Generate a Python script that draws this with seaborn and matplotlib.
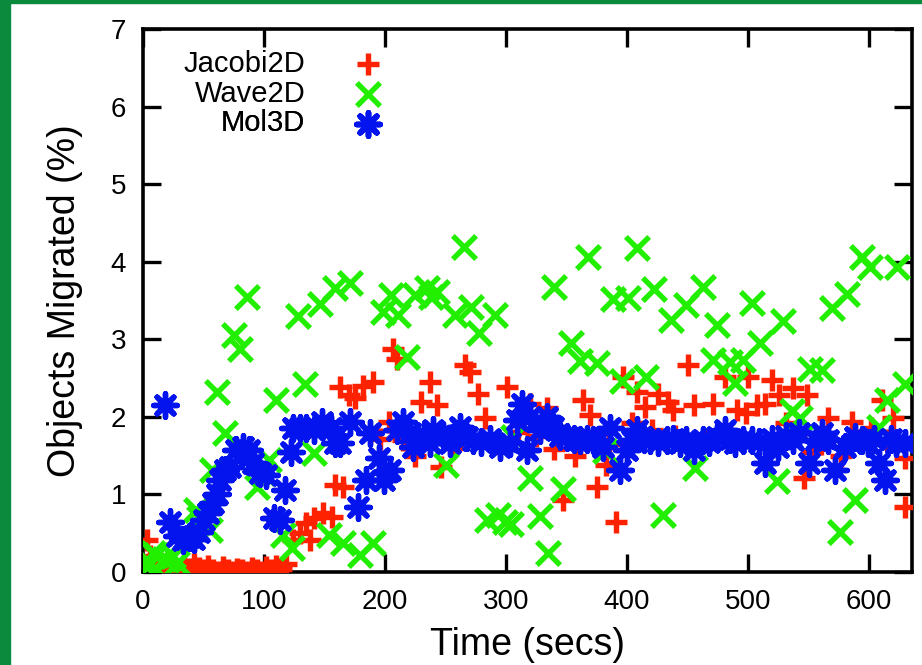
import matplotlib
matplotlib.use("Agg")
import matplotlib.pyplot as plt
from matplotlib.patches import Rectangle
import seaborn as sns

# ---------------- data ----------------
jacobi_t = [3, 6, 8, 12, 16, 22, 28, 34, 38, 42, 46, 50, 54, 58, 62, 66, 70, 74,
            78, 82, 86, 90, 94, 98, 102, 106, 110, 114, 118,
            124, 130, 135, 138, 141, 149, 156, 159, 163, 165, 170, 175, 182, 190,
            196, 203, 207, 210, 215, 221, 225, 230, 237, 243, 246, 256, 266, 270,
            277, 283, 290, 301, 310, 320, 325, 334, 340, 345, 347, 350, 357, 361,
            364, 369, 375, 383, 385, 391, 397, 404, 408, 415, 421, 426, 434, 438,
            440, 450, 455, 465, 471, 481, 491, 498, 500, 507, 514, 520, 526, 531,
            537, 540, 546, 549, 553, 560, 566, 577, 586, 590, 602, 611, 615, 620,
            630, 630]
jacobi_pct = [0.41, 0.2, 0.1, 0.05, 0.02, 0.05, 0.02, 0.08, 0.04, 0.1, 0.05, 0.02,
              0.08, 0.03, 0.0, 0.06, 0.02, 0.0, 0.04, 0.02, 0.0, 0.05, 0.02, 0.0,
              0.06, 0.03, 0.08, 0.04, 0.1,
              0.41, 0.5, 0.63, 0.41, 0.69, 0.76, 0.71, 1.12, 2.39, 1.1, 2.28, 2.24,
              2.4, 2.45, 1.72, 1.94, 2.88, 2.75, 1.7, 1.61, 1.49, 2.19, 2.45, 2.15,
              1.36, 1.6, 2.67, 2.58, 2.3, 1.98, 1.65, 2.39, 1.8, 2.17, 1.75, 2.11,
              1.59, 1.78, 0.93, 1.74, 1.49, 1.61, 2.22, 2.02, 1.1, 1.38, 1.65, 0.65,
              2.52, 1.92, 2.32, 2.13, 1.83, 2.3, 2.19, 2.09, 1.75, 2.67, 2.15, 1.7,
              2.17, 2.52, 2.09, 2.05, 2.52, 2.15, 2.17, 2.47, 2.28, 1.92, 2.37, 1.75,
              1.21, 2.28, 1.55, 1.65, 1.98, 1.49, 1.94, 1.7, 1.85, 2.22, 1.7, 1.98,
              1.47, 0.84]

wave_t = [3, 6, 8.5, 11, 17, 20, 25, 28, 44, 46, 55, 57, 61, 68, 75, 80, 86, 94,
          99, 104, 110, 116, 123, 128, 134, 141, 146, 154, 159, 165, 171, 179, 190,
          198, 205, 211, 218, 225, 235, 238, 243, 250, 258, 265, 271, 278, 284, 291,
          293, 299, 304, 306, 320, 328, 335, 340, 347, 354, 361, 368, 375, 382, 388,
          396, 401, 408, 416, 422, 430, 436, 449, 456, 463, 471, 474, 485, 489, 496,
          503, 510, 524, 529, 536, 543, 551, 561, 569, 576, 582, 588, 594, 601, 608,
          615, 623, 630]
wave_pct = [0.07, 0.11, 0.24, 0.22, 0.17, 0.15, 0.2, 0.11, 0.8, 0.7, 0.54, 1.31,
            2.32, 1.79, 3.05, 2.88, 3.55, 1.1, 1.27, 1.44, 2.22, 0.48, 0.31, 3.3,
            2.42, 1.53, 3.46, 0.48, 3.66, 0.37, 3.72, 0.22, 0.37, 3.35, 3.57, 3.31,
            2.77, 3.57, 3.66, 3.55, 3.61, 1.38, 3.31, 4.19, 3.42, 3.08, 0.67, 3.31,
            0.73, 0.65, 0.62, 1.74, 1.21, 0.72, 0.24, 3.68, 1.07, 2.95, 2.72, 4.06,
            2.69, 1.56, 3.52, 2.46, 3.53, 4.18, 2.51, 3.65, 0.73, 3.25, 3.44, 1.34,
            3.68, 2.73, 3.19, 2.71, 2.44, 2.73, 3.47, 2.95, 1.17, 3.24, 2.07, 1.99,
            2.62, 2.6, 3.4, 0.52, 3.58, 0.93, 4.06, 3.93, 1.87, 2.22, 3.93, 2.43]

mol_t = [18, 22, 28, 33, 38, 42, 46, 50, 54, 58, 61, 64, 68, 72, 77, 83, 88, 91,
         97, 102, 108, 113, 117, 122, 124, 130, 135, 141, 148, 155, 159, 163, 171,
         178, 184, 188, 195, 199, 204, 210, 215, 221, 223, 232, 237, 240, 248, 254,
         262, 268, 273, 279, 287, 295, 303, 309, 313, 317, 320, 328, 334, 339, 345,
         350, 356, 361, 367, 372, 380, 386, 394, 400, 404, 408, 414, 419, 426, 433,
         438, 444, 449, 455, 463, 468, 474, 481, 485, 489, 496, 503, 509, 514, 520,
         525, 531, 537, 542, 550, 556, 561, 566, 572, 580, 588, 594, 599, 604, 608,
         613, 618, 622, 630]
mol_pct = [2.15, 0.65, 0.46, 0.41, 0.45, 0.43, 0.52, 0.67, 0.76, 0.89, 1.0, 1.19,
           1.31, 1.36, 1.57, 1.61, 1.57, 1.4, 1.27, 1.25, 0.69, 0.67, 1.06, 1.55,
           1.85, 1.85, 1.85, 1.83, 1.94, 1.85, 1.66, 1.66, 1.94, 0.84, 1.19, 1.79,
           1.47, 1.19, 1.31, 1.83, 1.94, 1.79, 1.61, 1.77, 1.66, 1.83, 1.77, 1.66,
           1.87, 1.74, 1.7, 1.68, 1.72, 1.61, 1.66, 1.96, 2.17, 1.57, 2.0, 1.83, 2.0,
           1.87, 1.75, 1.74, 1.72, 1.7, 1.72, 1.7, 1.61, 1.85, 1.31, 1.57, 1.7, 1.83,
           1.72, 1.7, 1.68, 1.7, 1.72, 1.66, 1.7, 1.57, 1.7, 1.68, 1.74, 1.83, 1.72,
           1.66, 1.7, 1.7, 1.68, 1.4, 1.72, 1.61, 1.75, 1.7, 1.79, 1.4, 1.7, 1.79,
           1.7, 1.31, 1.61, 1.74, 1.7, 1.66, 1.72, 1.4, 1.19, 1.72, 1.66, 1.66]

series_names = ["Jacobi2D", "Wave2D", "Mol3D"]
x_ticks = [0, 100, 200, 300, 400, 500, 600]
y_ticks = [0, 1, 2, 3, 4, 5, 6, 7]

RED = "#ff2200"
GREEN = "#22ee00"
BLUE = "#0414ee"

# ---------------- figure ----------------
sns.set_style("ticks")
plt.rcParams["font.family"] = ["Liberation Sans", "DejaVu Sans"]
plt.rcParams["text.color"] = "black"
plt.rcParams["axes.labelcolor"] = "black"

fig = plt.figure(figsize=(9.22, 6.65), dpi=100)
fig.patches.append(Rectangle((0, 0), 10 / 922, 1, transform=fig.transFigure,
                             color="#0b8a3e", zorder=0))
fig.patches.append(Rectangle((0, 1 - 3 / 665), 1, 3 / 665, transform=fig.transFigure,
                             color="#0b8a3e", zorder=0))

ax = fig.add_axes([143 / 922, 1 - 572 / 665, 769 / 922, 543 / 665])

sns.scatterplot(x=jacobi_t, y=jacobi_pct, marker="+", color=RED, s=270,
                linewidth=3.9, ax=ax, label=series_names[0], zorder=3)
sns.scatterplot(x=wave_t, y=wave_pct, marker="x", color=GREEN, s=280,
                linewidth=3.9, ax=ax, label=series_names[1], zorder=4)
sns.scatterplot(x=mol_t, y=mol_pct, marker=(8, 2, 0), color=BLUE, s=290,
                linewidth=3.9, ax=ax, label=series_names[2], zorder=5)

ax.set_xlim(0, 635.5)
ax.set_ylim(0, 7)
ax.set_xticks(x_ticks)
ax.set_yticks(y_ticks)
ax.tick_params(direction="in", length=13, width=2.4, top=True, right=True,
               labelsize=20, colors="black")
ax.tick_params(axis="x", pad=12)
ax.tick_params(axis="y", pad=12)
for sp in ax.spines.values():
    sp.set_linewidth(2.6)
    sp.set_color("black")

ax.set_xlabel("Time (secs)", fontsize=27, labelpad=9)
ax.set_ylabel("Objects Migrated (%)", fontsize=27, labelpad=20)

# gnuplot-style key: right-aligned titles with the sample on the right
handles, labels = ax.get_legend_handles_labels()
ax.get_legend().remove() if ax.get_legend() else None
key_y = [0.936, 0.881, 0.826]
for h, lab, yk in zip(handles, labels, key_y):
    lg = ax.legend([h], [lab], loc="center right", bbox_to_anchor=(0.312, yk),
                   frameon=False, markerfirst=False, fontsize=21,
                   handletextpad=1.66, handlelength=1.0, borderaxespad=0,
                   borderpad=0)
    ax.add_artist(lg)

fig.savefig("out.png", dpi=100)
